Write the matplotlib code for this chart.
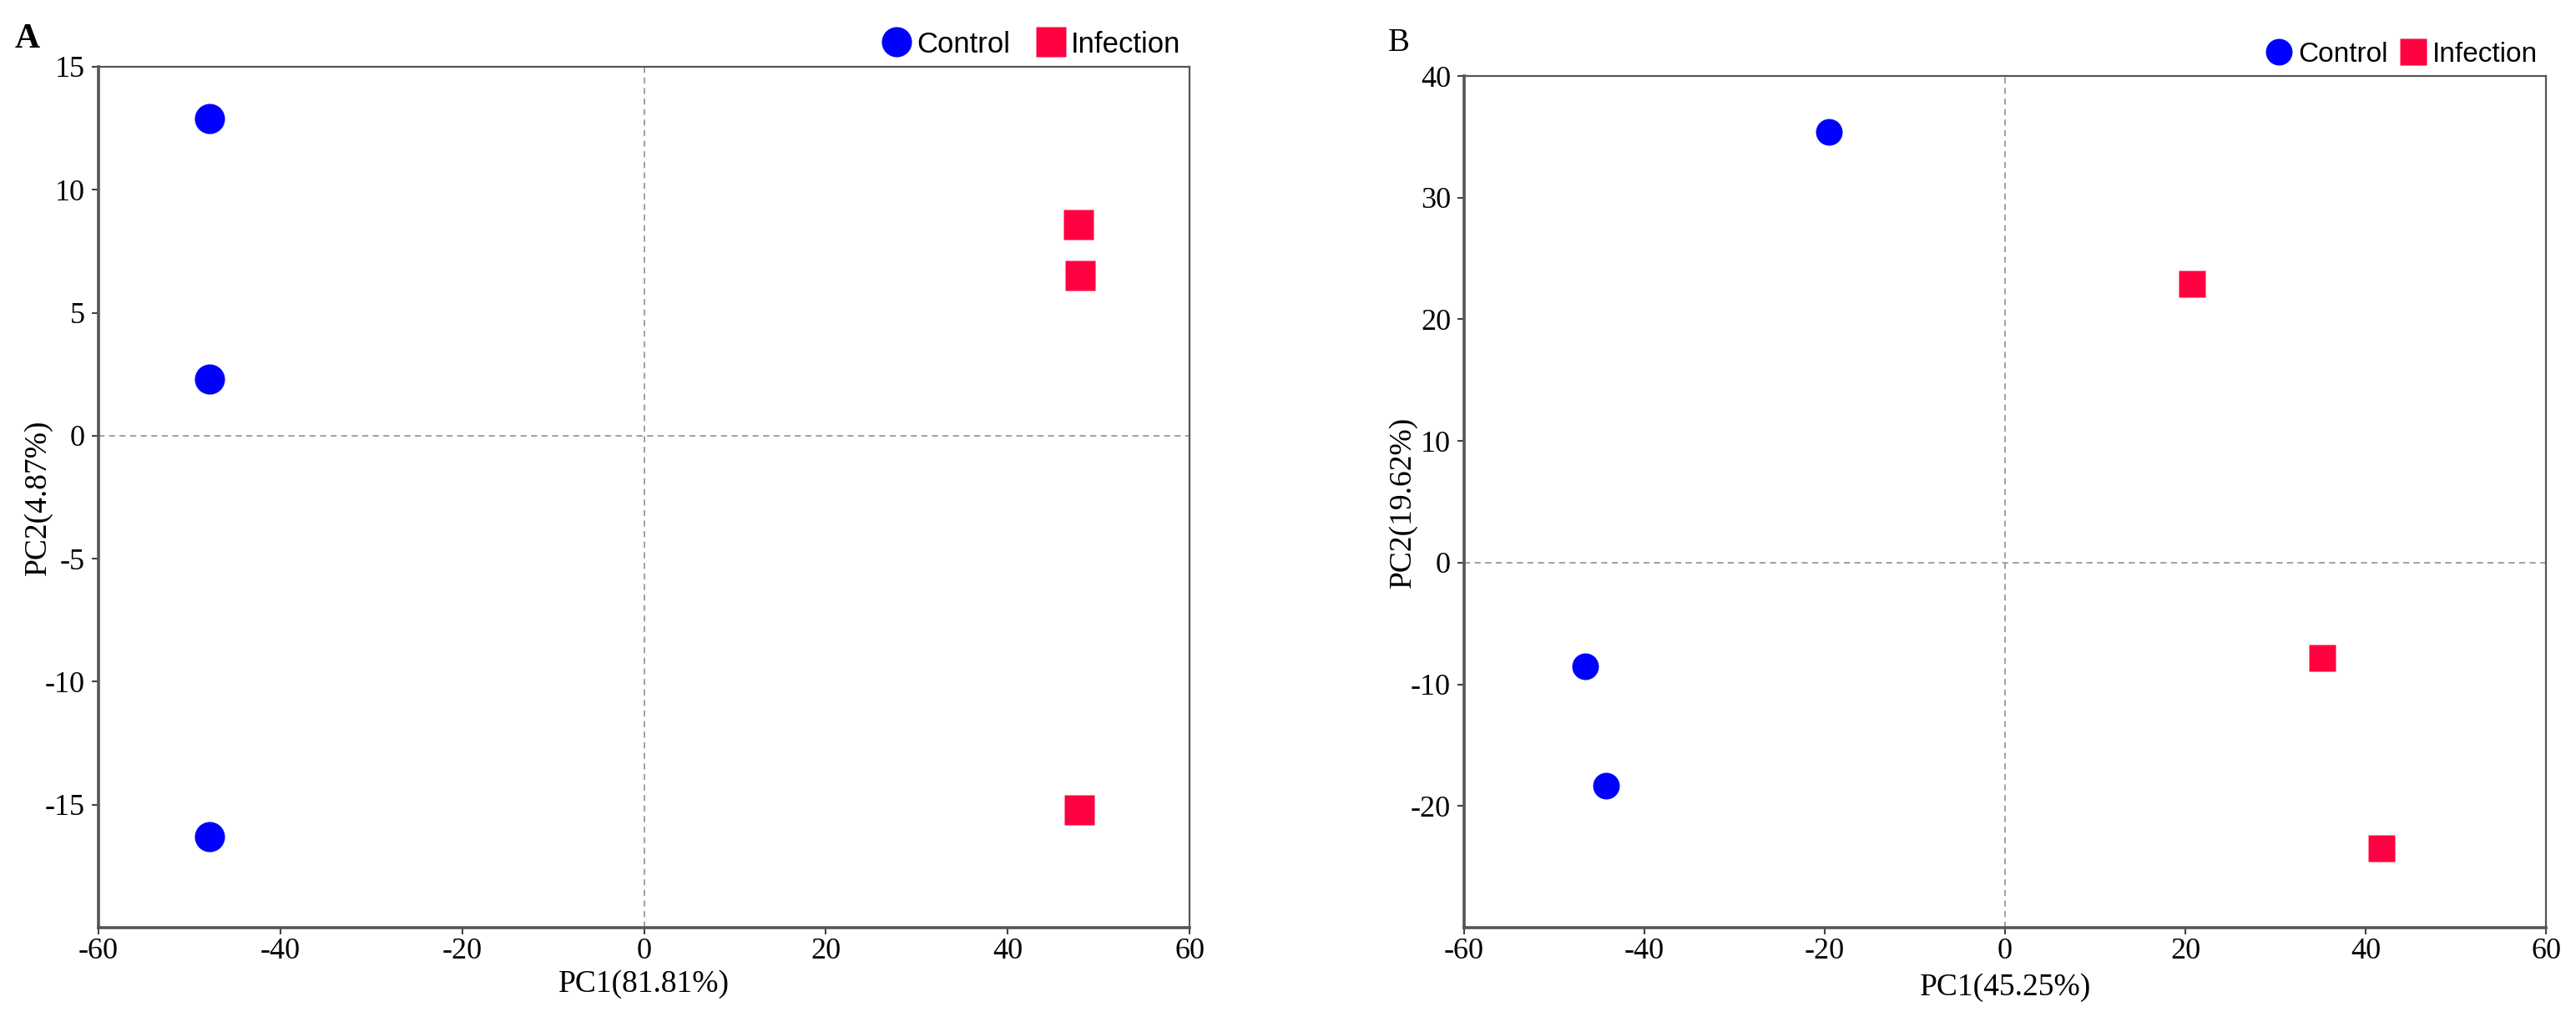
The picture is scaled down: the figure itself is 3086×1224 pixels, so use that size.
import matplotlib.pyplot as plt

plt.rcParams['axes.unicode_minus'] = False

# panel A
a_ctrl_x = [-47.8, -47.8, -47.8]
a_ctrl_y = [12.9, 2.3, -16.3]
a_inf_x = [47.8, 48.0, 47.9]
a_inf_y = [8.6, 6.5, -15.2]

# panel B
b_ctrl_x = [-46.6, -44.3, -19.5]
b_ctrl_y = [-8.5, -18.3, 35.4]
b_inf_x = [20.7, 35.2, 41.8]
b_inf_y = [22.9, -7.8, -23.5]

xticks = [-60, -40, -20, 0, 20, 40, 60]
a_yticks = [-15, -10, -5, 0, 5, 10, 15]
b_yticks = [-20, -10, 0, 10, 20, 30, 40]

blue = '#0000FF'
red = '#FF0040'
serif = 'Liberation Serif'
sans = 'Liberation Sans'

fig = plt.figure(figsize=(30.86, 12.24), dpi=100)
axA = fig.add_axes([118/3086, 113/1224, 1307/3086, 1031/1224])
axB = fig.add_axes([1754/3086, 113/1224, 1296/3086, 1020/1224])


def style(ax, ylim, yticks, xlabel, ylabel, xl_y, yl_x):
    ax.axvline(0, color='#999999', ls=(0, (4, 3)), lw=1.3, zorder=1)
    ax.axhline(0, color='#999999', ls=(0, (4, 3)), lw=1.3, zorder=1)
    ax.set_xlim(-60, 60)
    ax.set_ylim(*ylim)
    ax.set_xticks(xticks)
    ax.set_yticks(yticks)
    for sp in ax.spines.values():
        sp.set_color('#555555')
        sp.set_linewidth(1.6)
    ax.spines['left'].set_linewidth(2.6)
    ax.spines['bottom'].set_linewidth(2.6)
    ax.tick_params(direction='out', length=5.5, width=1.5, color='#444444',
                   labelsize=26)
    ax.tick_params(axis='x', pad=3)
    ax.tick_params(axis='y', pad=6)
    for lab in ax.get_xticklabels() + ax.get_yticklabels():
        lab.set_fontfamily(serif)
    ax.set_xlabel(xlabel, fontsize=27, family=serif)
    ax.set_ylabel(ylabel, fontsize=27, family=serif)
    ax.xaxis.set_label_coords(0.5, xl_y)
    ax.yaxis.set_label_coords(yl_x, 0.5)


axA.plot(a_ctrl_x, a_ctrl_y, 'o', color=blue, ms=26, mec='none', label='Control', zorder=3)
axA.plot(a_inf_x, a_inf_y, 's', color=red, ms=26, mec='none', label='Infection', zorder=3)
style(axA, (-20, 15), a_yticks, 'PC1(81.81%)', 'PC2(4.87%)', -0.049, -0.042)
axA.legend(loc='lower right', bbox_to_anchor=(1.0, 1.0), ncol=2, frameon=False,
           prop={'family': sans, 'size': 25}, borderpad=0, borderaxespad=0.3,
           handletextpad=0.2, columnspacing=0.9, handlelength=1.0, markerscale=1.0)

axB.plot(b_ctrl_x, b_ctrl_y, 'o', color=blue, ms=23, mec='none', label='Control', zorder=3)
axB.plot(b_inf_x, b_inf_y, 's', color=red, ms=23, mec='none', label='Infection', zorder=3)
style(axB, (-30, 40), b_yticks, 'PC1(45.25%)', 'PC2(19.62%)', -0.053, -0.043)
axB.legend(loc='lower right', bbox_to_anchor=(1.0, 1.0), ncol=2, frameon=False,
           prop={'family': sans, 'size': 24}, borderpad=0, borderaxespad=0.3,
           handletextpad=0.2, columnspacing=0.4, handlelength=1.0, markerscale=1.0)

fig.text(18/3086, 1 - 28/1224, 'A', family=serif, weight='bold', fontsize=30, va='top', ha='left')
fig.text(1663/3086, 1 - 33/1224, 'B', family=serif, fontsize=28, va='top', ha='left')

fig.savefig('out.png', dpi=100, facecolor='white')
